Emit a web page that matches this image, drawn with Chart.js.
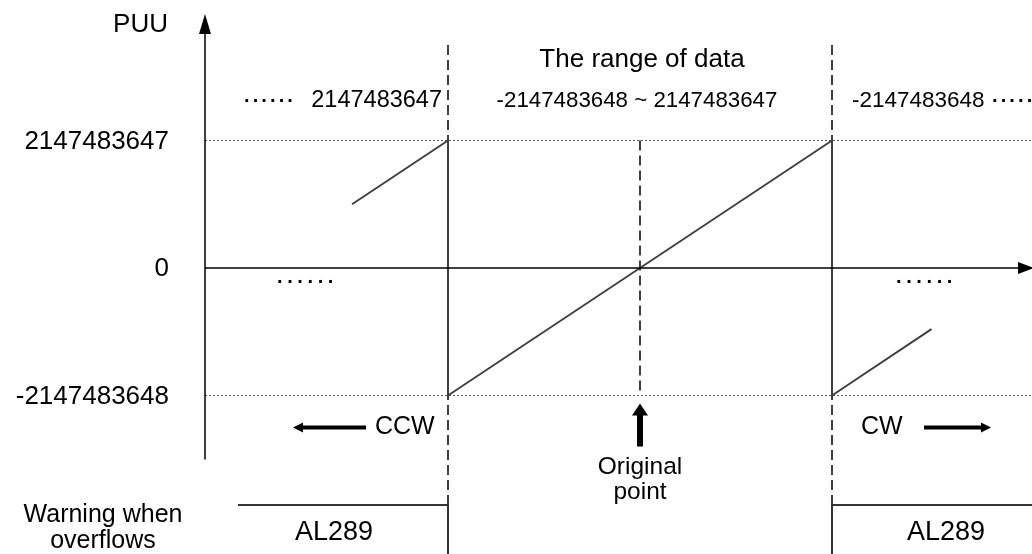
<!DOCTYPE html>
<html>
<head>
<meta charset="utf-8">
<script src="https://cdn.jsdelivr.net/npm/chart.js@4/dist/chart.umd.min.js"></script>
<style>
  html, body { margin: 0; padding: 0; background: #fff; }
  #wrap { width: 1032px; height: 554px; }
</style>
</head>
<body>
<div id="wrap"><canvas id="puuChart"></canvas></div>
<script>
const PUU_MAX = 2147483647;
const PUU_MIN = -2147483648;
const HALF = 2147483648; // half of one counter cycle, in pulses

// sawtooth: motor position (pulses) -> PUU feedback
const positions = [-3221225472, -2147483648, -2147483648, 2147483647, 2147483647, 3260000000];
const puuValues = [1073741824, 2147483647, -2147483648, 2147483647, -2147483648, -1030000000];

// labels on the PUU axis
const yTickValues = [PUU_MAX, 0, PUU_MIN];
const yTickLabels = ['2147483647', '0', '-2147483648'];

// range texts above the plot
const rangeTitle = 'The range of data';
const rangeLeft = '2147483647';
const rangeMid = '-2147483648 ~ 2147483647';
const rangeRight = '-2147483648';
const alarmCode = 'AL289';

// visible window (pulses / PUU)
const X_MIN = -HALF * 640 / 192;
const X_MAX = HALF * 392 / 192;
const Y_MAX = HALF * 268 / 127.5;
const Y_MIN = -HALF * 286 / 127.5;
const AXIS_X = -HALF * 435 / 192;
const DASH_TOP = HALF * 1.75;

const FONT = '"Liberation Sans", Arial, sans-serif';

function vline(x, y0, y1) { return [{ x: x, y: y0 }, { x: x, y: y1 }]; }
function hline(y, x0, x1) { return [{ x: x0, y: y }, { x: x1, y: y }]; }

const sawData = positions.map((p, i) => ({ x: p, y: puuValues[i] }));

function text(ctx, str, x, y, size, align, extra) {
    ctx.save();
    ctx.font = (extra && extra.bold ? 'bold ' : '') + size + 'px ' + FONT;
    ctx.fillStyle = '#000';
    ctx.textAlign = align || 'center';
    ctx.textBaseline = (extra && extra.base) || 'middle';
    if (extra && extra.spacing) ctx.letterSpacing = extra.spacing;
    ctx.fillText(str, x, y);
    ctx.restore();
}

function arrowHead(ctx, tipX, tipY, dir, len, half) {
    ctx.beginPath();
    if (dir === 'up') {
        ctx.moveTo(tipX, tipY);
        ctx.lineTo(tipX - half, tipY + len);
        ctx.lineTo(tipX + half, tipY + len);
    } else if (dir === 'right') {
        ctx.moveTo(tipX, tipY);
        ctx.lineTo(tipX - len, tipY - half);
        ctx.lineTo(tipX - len, tipY + half);
    } else {
        ctx.moveTo(tipX, tipY);
        ctx.lineTo(tipX + len, tipY - half);
        ctx.lineTo(tipX + len, tipY + half);
    }
    ctx.closePath();
    ctx.fill();
}

const diagramPlugin = {
    id: 'diagram',
    afterDatasetsDraw(chart) {
        const ctx = chart.ctx;
        const X = v => chart.scales.x.getPixelForValue(v);
        const Y = v => chart.scales.y.getPixelForValue(v);
        const ax = X(AXIS_X), y0 = Y(0);
        const xL = X(-HALF), xR = X(HALF), xO = X(0);
        const yBot = Y(PUU_MIN);

        ctx.save();
        ctx.strokeStyle = '#000';
        ctx.fillStyle = '#000';
        ctx.lineWidth = 1.5;
        // PUU axis
        ctx.beginPath();
        ctx.moveTo(ax, yBot + 64);
        ctx.lineTo(ax, 30);
        ctx.stroke();
        arrowHead(ctx, ax, 14, 'up', 20, 6);
        // position axis
        ctx.beginPath();
        ctx.moveTo(ax, y0);
        ctx.lineTo(1018, y0);
        ctx.stroke();
        arrowHead(ctx, 1034, y0, 'right', 16, 6);

        // CCW / CW arrows
        ctx.lineWidth = 4;
        ctx.beginPath(); ctx.moveTo(300, yBot + 32); ctx.lineTo(366, yBot + 32); ctx.stroke();
        arrowHead(ctx, 293, yBot + 32, 'left', 10, 5);
        ctx.beginPath(); ctx.moveTo(924, yBot + 32); ctx.lineTo(984, yBot + 32); ctx.stroke();
        arrowHead(ctx, 991, yBot + 32, 'right', 10, 5);
        // origin arrow
        ctx.lineWidth = 6;
        ctx.beginPath(); ctx.moveTo(xO, yBot + 51); ctx.lineTo(xO, yBot + 18); ctx.stroke();
        arrowHead(ctx, xO, yBot + 8, 'up', 12, 8);

        // AL289 boxes
        ctx.strokeStyle = '#333';
        ctx.lineWidth = 2;
        ctx.beginPath();
        ctx.moveTo(238, 505); ctx.lineTo(xL, 505); ctx.lineTo(xL, 554);
        ctx.moveTo(1032, 505); ctx.lineTo(xR, 505); ctx.lineTo(xR, 554);
        ctx.stroke();
        ctx.restore();

        // texts
        text(ctx, 'PUU', 168, 25, 26, 'right');
        yTickValues.forEach((v, i) => text(ctx, yTickLabels[i], 169, Y(v) + 1, 26, 'right'));
        text(ctx, rangeTitle, xO + 2, 60, 26);
        text(ctx, rangeLeft, xL - 6, 101, 23.5, 'right');
        text(ctx, '······', 244, 101, 20, 'left', { bold: true, spacing: '2px' });
        text(ctx, rangeMid, xO - 3, 101, 22.3);
        text(ctx, rangeRight, xR + 20, 101, 22.5, 'left');
        text(ctx, '······', 992, 101, 20, 'left', { bold: true, spacing: '2px' });
        text(ctx, '······', 277, y0 + 14, 20, 'left', { bold: true, spacing: '3.5px' });
        text(ctx, '······', 896, y0 + 14, 20, 'left', { bold: true, spacing: '3.5px' });
        text(ctx, 'CCW', 375, yBot + 32, 25, 'left');
        text(ctx, 'CW', 861, yBot + 32, 25, 'left');
        text(ctx, 'Original', xO, 474, 24.5, 'center', { base: 'alphabetic' });
        text(ctx, 'point', xO, 499, 24.5, 'center', { base: 'alphabetic' });
        text(ctx, 'Warning when', 103, 515, 25);
        text(ctx, 'overflows', 103, 541, 25);
        text(ctx, alarmCode, 334, 533, 27);
        text(ctx, alarmCode, 946, 533, 27);
    }
};

const line = (data, color, width, dash) => ({
    data: data,
    borderColor: color,
    borderWidth: width,
    borderDash: dash || [],
    pointRadius: 0,
    showLine: true,
    fill: false,
    tension: 0
});

new Chart(document.getElementById('puuChart'), {
    type: 'scatter',
    data: {
        datasets: [
            line(sawData, '#404040', 2),
            line(vline(-HALF, DASH_TOP, Y_MIN), '#000', 1.5, [10, 5]),
            line(vline(HALF, DASH_TOP, Y_MIN), '#000', 1.5, [10, 5]),
            line(vline(0, PUU_MAX, PUU_MIN), '#000', 1.5, [10, 5]),
            line(hline(PUU_MAX, AXIS_X, X_MAX), '#555', 1, [2, 2]),
            line(hline(PUU_MIN, AXIS_X, X_MAX), '#555', 1, [2, 2])
        ]
    },
    options: {
        responsive: true,
        maintainAspectRatio: false,
        animation: false,
        layout: { padding: 0 },
        plugins: { legend: { display: false }, tooltip: { enabled: false } },
        scales: {
            x: { type: 'linear', min: X_MIN, max: X_MAX, display: false },
            y: { type: 'linear', min: Y_MIN, max: Y_MAX, display: false }
        }
    },
    plugins: [diagramPlugin]
});
</script>
</body>
</html>
